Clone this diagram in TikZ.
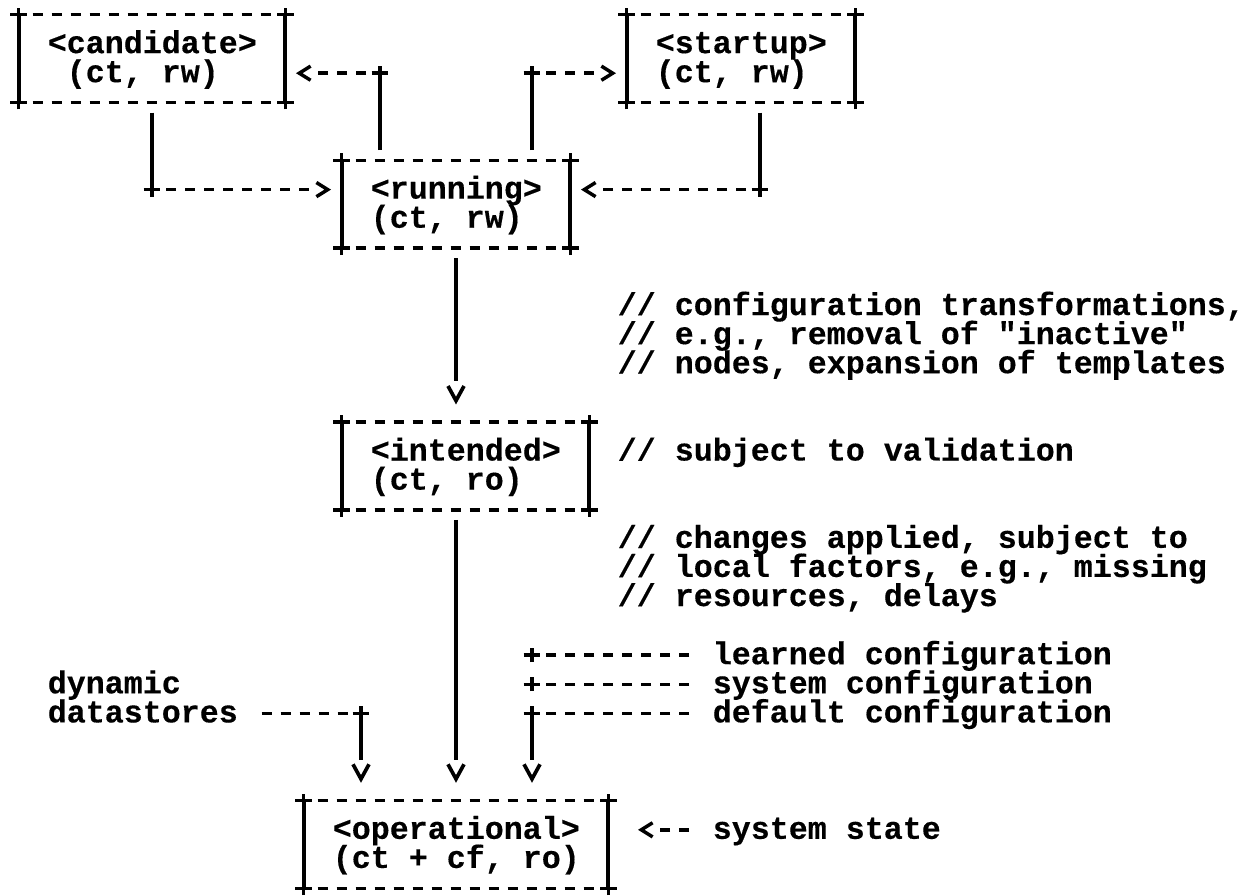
\documentclass[tikz,border=0pt]{standalone}
\usepackage{fontspec}
\newfontfamily\asciifont{Liberation Mono}[BoldFeatures={FakeBold=0.35}]
\usetikzlibrary{fit}

\pgfdeclarearrow{
  name = AsciiH,
  parameters = {h},
  setup code = {
    \pgfarrowssettipend{0pt}
    \pgfarrowssetlineend{-14.25pt}
    \pgfarrowssetbackend{-8.5pt}
    \pgfarrowshullpoint{0pt}{0pt}
    \pgfarrowsupperhullpoint{-8.5pt}{5.3pt}
  },
  drawing code = {
    \pgfsetdash{}{0pt}\pgfsetmiterjoin\pgfsetbuttcap
    \pgfpathmoveto{\pgfqpoint{-8.5pt}{5.3pt}}
    \pgfpathlineto{\pgfqpoint{0pt}{0pt}}
    \pgfpathlineto{\pgfqpoint{-8.5pt}{-5.3pt}}
    \pgfusepathqstroke
  }
}
\pgfdeclarearrow{
  name = AsciiV,
  parameters = {v},
  setup code = {
    \pgfarrowssettipend{0pt}
    \pgfarrowssetlineend{-14.5pt}
    \pgfarrowssetbackend{-11pt}
    \pgfarrowshullpoint{0pt}{0pt}
    \pgfarrowsupperhullpoint{-11pt}{6pt}
  },
  drawing code = {
    \pgfsetdash{}{0pt}\pgfsetmiterjoin\pgfsetbuttcap
    \pgfpathmoveto{\pgfqpoint{-11pt}{6pt}}
    \pgfpathlineto{\pgfqpoint{0pt}{0pt}}
    \pgfpathlineto{\pgfqpoint{-11pt}{-6pt}}
    \pgfusepathqstroke
  }
}

\tikzset{
  dashline/.style={line width=2.6pt, dash pattern=on 7.5pt off 6.75pt, dash phase=3.75pt},
  dashlab/.style={line width=2.6pt, dash pattern=on 7.5pt off 6.75pt, dash phase=0pt, shorten <=17.625pt},
  vline/.style={line width=2.75pt},
  plusmark/.style={line width=2.6pt},
  txt/.style={inner sep=0pt, anchor=base west, font=\asciifont\bfseries\fontsize{23.75pt}{22pt}\selectfont},
  boxnode/.style={inner sep=0pt, draw=none},
  harrow/.style={-{AsciiH}, shorten >=10.5pt},
  varrow/.style={-{AsciiV}, shorten >=16.1pt}
}
\newcommand\plusat[1]{\draw[plusmark] ([xshift=-6.2pt]#1) -- ([xshift=6.2pt]#1) ([yshift=-5.2pt]#1) -- ([yshift=5.2pt]#1);}
\newcommand\asciiframe[1]{%
  \draw[dashline] (#1.north west) -- (#1.north east);
  \draw[dashline] (#1.south west) -- (#1.south east);
  \draw[vline] (#1.north west) -- (#1.south west);
  \draw[vline] (#1.north east) -- (#1.south east);
  \plusat{#1.north west}\plusat{#1.north east}\plusat{#1.south west}\plusat{#1.south east}}

\begin{document}
\begin{tikzpicture}[x=0.75pt,y=-0.75pt]
\useasboundingbox (0,0) rectangle (1244,895);

% boxes
\node[boxnode, fit={(19,15) (285,102.3)}] (cand) {};
\node[boxnode, fit={(627,15) (855,102.3)}] (start) {};
\node[boxnode, fit={(342,160.5) (570,247.8)}] (run) {};
\node[boxnode, fit={(342,422.4) (589,509.7)}] (int) {};
\node[boxnode, fit={(304,800.7) (608,888)}] (oper) {};
\asciiframe{cand}\asciiframe{start}\asciiframe{run}\asciiframe{int}\asciiframe{oper}

% box texts
\node[txt] (candA) at (47.5,53.1) {<candidate>};
\node[txt] (candB) at (66.5,82.2) {(ct, rw)};
\node[txt] (startA) at (655.5,53.1) {<startup>};
\node[txt] (startB) at (655.5,82.2) {(ct, rw)};
\node[txt] (runA) at (370.5,198.6) {<running>};
\node[txt] (runB) at (370.5,227.7) {(ct, rw)};
\node[txt] (intA) at (370.5,460.5) {<intended>};
\node[txt] (intB) at (370.5,489.6) {(ct, ro)};
\node[txt] (operA) at (332.5,838.8) {<operational>};
\node[txt] (operB) at (332.5,867.9) {(ct + cf, ro)};

% comments and labels
\node[txt] (com1) at (617.5,315) {// configuration transformations,};
\node[txt] (com2) at (617.5,344.1) {// e.g., removal of "inactive"};
\node[txt] (com3) at (617.5,373.2) {// nodes, expansion of templates};
\node[txt] (com4) at (617.5,460.5) {// subject to validation};
\node[txt] (com5) at (617.5,547.8) {// changes applied, subject to};
\node[txt] (com6) at (617.5,576.9) {// local factors, e.g., missing};
\node[txt] (com7) at (617.5,606) {// resources, delays};
\node[txt] (cfgL) at (712.5,664.2) {learned configuration};
\node[txt] (cfgS) at (712.5,693.3) {system configuration};
\node[txt] (cfgD) at (712.5,722.4) {default configuration};
\node[txt] (dyn) at (47.5,693.3) {dynamic};
\node[txt] (dstore) at (47.5,722.4) {datastores};
\node[txt] (sysstate) at (712.5,838.8) {system state};

% corners and label attachment points
\coordinate (k1) at (380,73.2);
\coordinate (k2) at (532,73.2);
\coordinate (k3) at (152,189.6);
\coordinate (k4) at (760,189.6);
\coordinate (kl) at (532,655.2);
\coordinate (ks) at (532,684.3);
\coordinate (kd) at (532,713.4);
\coordinate (kdyn) at (361,713.4);
\coordinate (pL) at ([yshift=6.75pt]cfgL.base west);
\coordinate (pS) at ([yshift=6.75pt]cfgS.base west);
\coordinate (pD) at ([yshift=6.75pt]cfgD.base west);
\coordinate (pDyn) at ([yshift=6.75pt]dstore.base east);
\coordinate (pSys) at ([yshift=6.75pt]sysstate.base west);

% running -> candidate / startup
\draw[vline, shorten <=7.5pt] (run.north -| k1) -- (k1);
\draw[dashline, harrow] (k1) -- (cand.east |- k1);
\draw[vline, shorten <=7.5pt] (run.north -| k2) -- (k2);
\draw[dashline, harrow] (k2) -- (start.west |- k2);
% candidate / startup -> running
\draw[vline, shorten <=7.5pt] (cand.south -| k3) -- (k3);
\draw[dashline, harrow] (k3) -- (run.west |- k3);
\draw[vline, shorten <=7.5pt] (start.south -| k4) -- (k4);
\draw[dashline, harrow] (k4) -- (run.east |- k4);
\plusat{k1}\plusat{k2}\plusat{k3}\plusat{k4}

% running -> intended -> operational
\draw[vline, varrow, shorten <=7.5pt] (run.south) -- (int.north -| run.south);
\draw[vline, varrow, shorten <=7.5pt] (int.south -| run.south) -- (oper.north -| run.south);

% dynamic datastores
\draw[dashlab] (pDyn) -- (kdyn);
\draw[vline, varrow] (kdyn) -- (oper.north -| kdyn);
\plusat{kdyn}

% configuration sources
\draw[dashlab] (pL) -- (kl);
\draw[dashlab] (pS) -- (ks);
\draw[dashlab] (pD) -- (kd);
\draw[vline, varrow] (kd) -- (oper.north -| kd);
\plusat{kl}\plusat{ks}\plusat{kd}

% system state
\draw[dashlab, -{AsciiH}, shorten >=24.75pt] (pSys) -- (oper.east |- pSys);
\end{tikzpicture}
\end{document}
